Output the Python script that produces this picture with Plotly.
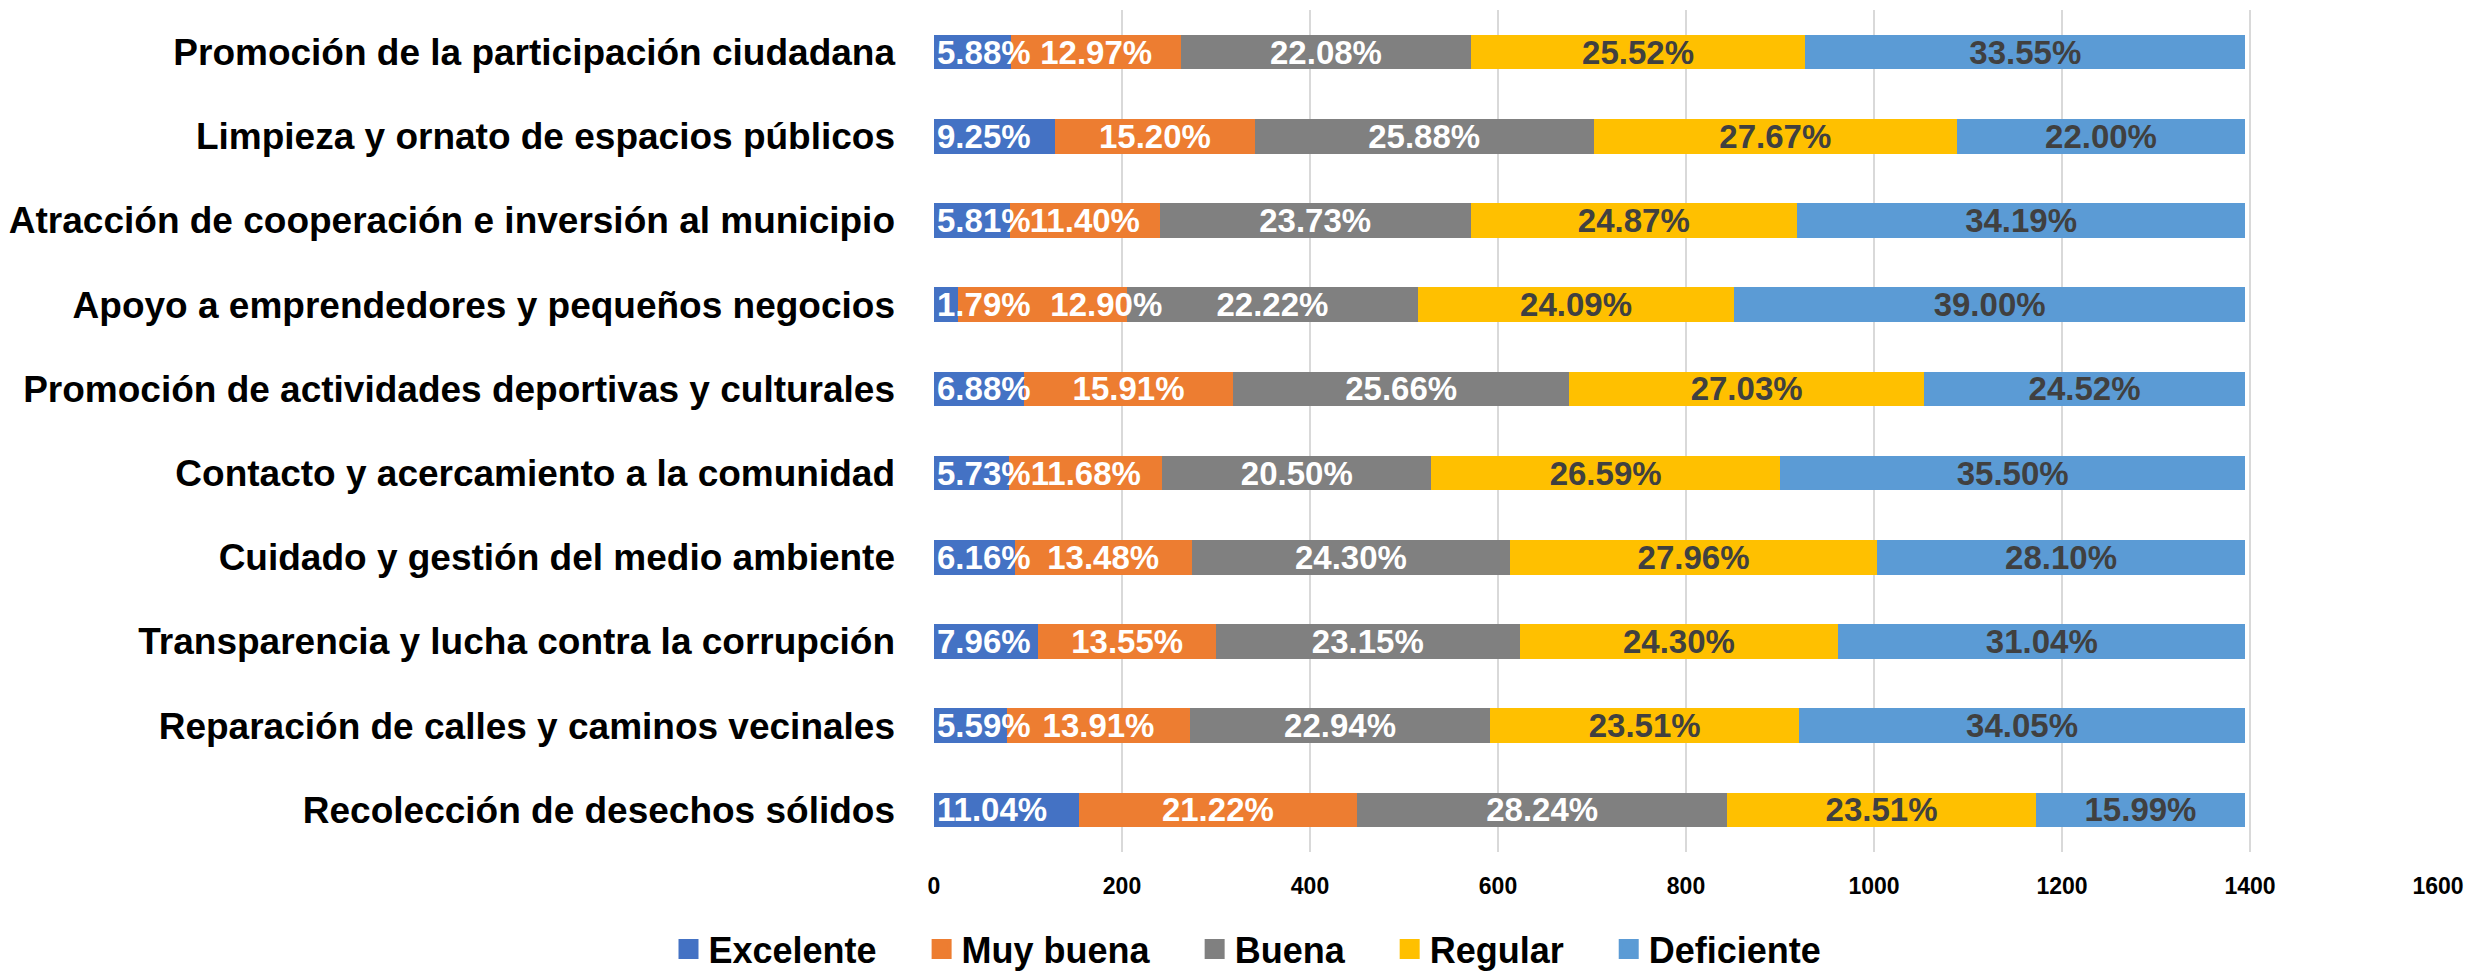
import plotly.graph_objects as go

categories = [
    "Promoción de la participación ciudadana",
    "Limpieza y ornato de espacios públicos",
    "Atracción de cooperación e inversión al municipio",
    "Apoyo a emprendedores y pequeños negocios",
    "Promoción de actividades deportivas y culturales",
    "Contacto y acercamiento a la comunidad",
    "Cuidado y gestión del medio ambiente",
    "Transparencia y lucha contra la corrupción",
    "Reparación de calles y caminos vecinales",
    "Recolección de desechos sólidos",
]

series_names = ["Excelente", "Muy buena", "Buena", "Regular", "Deficiente"]

excelente = [82, 129, 81, 25, 96, 80, 86, 111, 78, 154]
muy_buena = [181, 212, 159, 180, 222, 163, 188, 189, 194, 296]
buena = [308, 361, 331, 310, 358, 286, 339, 323, 320, 394]
regular = [356, 386, 347, 336, 377, 371, 390, 339, 328, 328]
deficiente = [468, 307, 477, 544, 342, 495, 392, 433, 475, 223]

pct_excelente = ["5.88%", "9.25%", "5.81%", "1.79%", "6.88%", "5.73%", "6.16%", "7.96%", "5.59%", "11.04%"]
pct_muy_buena = ["12.97%", "15.20%", "11.40%", "12.90%", "15.91%", "11.68%", "13.48%", "13.55%", "13.91%", "21.22%"]
pct_buena = ["22.08%", "25.88%", "23.73%", "22.22%", "25.66%", "20.50%", "24.30%", "23.15%", "22.94%", "28.24%"]
pct_regular = ["25.52%", "27.67%", "24.87%", "24.09%", "27.03%", "26.59%", "27.96%", "24.30%", "23.51%", "23.51%"]
pct_deficiente = ["33.55%", "22.00%", "34.19%", "39.00%", "24.52%", "35.50%", "28.10%", "31.04%", "34.05%", "15.99%"]

x_ticks = [0, 200, 400, 600, 800, 1000, 1200, 1400, 1600]

values = [excelente, muy_buena, buena, regular, deficiente]
labels = [pct_excelente, pct_muy_buena, pct_buena, pct_regular, pct_deficiente]
colors = ["#4472C4", "#ED7D31", "#808080", "#FFC000", "#5B9BD5"]
text_colors = ["#FFFFFF", "#FFFFFF", "#FFFFFF", "#404040", "#404040"]
# Excel keeps the first series' labels inside the plot area (they start at the axis)
text_anchors = ["start", "middle", "middle", "middle", "middle"]
# label nudges (number of leading non-breaking spaces) as in the original, where a
# crowded label was pushed right so it does not collide with its neighbour
label_nudge = [
    [0] * 10,
    [0, 0, 0, 14, 0, 0, 0, 0, 0, 0],
    [0] * 10,
    [0] * 10,
    [0] * 10,
]

FONT = "Liberation Sans, Arial, sans-serif"
PAD = "\u00a0\u00a0\u00a0\u00a0"

fig = go.Figure()
# coloured bars (base layer)
for name, vals, col in zip(series_names, values, colors):
    fig.add_trace(go.Bar(
        name=name,
        showlegend=False,
        y=categories,
        x=vals,
        orientation="h",
        marker=dict(color=col, line=dict(width=0)),
        hoverinfo="x+y+name",
        yaxis="y",
    ))
# data labels drawn on an overlaying axis so they sit above every bar
for name, vals, labs, tcol, anc, nud in zip(series_names, values, labels, text_colors, text_anchors, label_nudge):
    shown = ["\u00a0" * n + t for t, n in zip(labs, nud)]
    fig.add_trace(go.Bar(
        name=name,
        showlegend=False,
        y=categories,
        x=vals,
        orientation="h",
        marker=dict(color="rgba(0,0,0,0)", line=dict(width=0)),
        text=shown,
        texttemplate="%{text}",
        textposition="inside",
        insidetextanchor=anc,
        constraintext="none",
        textangle=0,
        cliponaxis=False,
        textfont=dict(family=FONT, size=33, color=tcol, weight="bold"),
        hoverinfo="skip",
        yaxis="y2",
    ))
# legend entries with larger square swatches
for i, (name, col) in enumerate(zip(series_names, colors)):
    fig.add_trace(go.Scatter(
        name=name + (PAD if i < len(series_names) - 1 else ""),
        x=[None], y=[None],
        mode="markers",
        marker=dict(symbol="square", size=16, color=col, line=dict(color=col, width=4)),
        showlegend=True,
        hoverinfo="skip",
    ))

fig.update_layout(
    barmode="stack",
    bargap=0.59,
    width=2479,
    height=971,
    margin=dict(l=926, r=49, t=2, b=127, autoexpand=False),
    plot_bgcolor="white",
    paper_bgcolor="white",
    font=dict(family=FONT, color="#000000", weight="bold"),
    legend=dict(
        orientation="h",
        xref="container", yref="container",
        x=0.5, xanchor="center",
        y=0.0, yanchor="bottom",
        font=dict(family=FONT, size=36, color="#000000", weight="bold"),
        traceorder="normal",
        itemwidth=30,
        itemsizing="trace",
    ),
    xaxis=dict(
        range=[0, 1600],
        tickvals=x_ticks,
        ticktext=[str(t) for t in x_ticks],
        showgrid=True,
        gridcolor="#D9D9D9",
        gridwidth=2,
        zeroline=False,
        showline=False,
        ticks="",
        ticklabelstandoff=18,
        tickfont=dict(family=FONT, size=23, color="#000000", weight="bold"),
    ),
    yaxis=dict(
        categoryorder="array",
        categoryarray=categories,
        autorange="reversed",
        showgrid=False,
        showline=False,
        zeroline=False,
        ticks="",
        ticklabelstandoff=38,
        tickfont=dict(family=FONT, size=37, color="#000000", weight="bold"),
    ),
    yaxis2=dict(
        overlaying="y",
        matches="y",
        categoryorder="array",
        categoryarray=categories,
        visible=False,
        showgrid=False,
    ),
)

fig.write_html("out.html")
